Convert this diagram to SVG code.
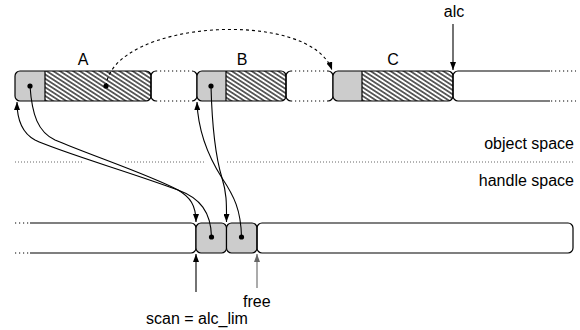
<svg xmlns="http://www.w3.org/2000/svg" width="580" height="330" viewBox="0 0 580 330">
<style>
  .txt { font-family: "Liberation Sans", Arial, sans-serif; font-size: 16px; fill: #000; }
  .edge { fill: none; stroke: #000; stroke-width: 1.2; }
  .dots { fill: none; stroke: #000; stroke-width: 1; stroke-dasharray: 1.2 2.8; }
  .gray { fill: #cccccc; }
  .hatch { fill: url(#hatch); }
  .ptr { fill: none; stroke: #000; stroke-width: 1.1; }
  .dot { fill: #000; }
  .sep { fill: none; stroke: #666; stroke-width: 1; stroke-dasharray: 1 2; }
</style>
<defs>
  <pattern id="hatch" width="3.6" height="3.6" patternUnits="userSpaceOnUse" patternTransform="rotate(33)">
    <line x1="0" y1="1.8" x2="3.6" y2="1.8" stroke="#000" stroke-width="1.2"/>
  </pattern>
  <marker id="arr" viewBox="0 0 8 6" refX="8" refY="3" markerWidth="8" markerHeight="6" markerUnits="userSpaceOnUse" orient="auto">
    <path d="M0,0 L8,3 L0,6 z" fill="#000"/>
  </marker>
  <marker id="arrG" viewBox="0 0 8 6" refX="8" refY="3" markerWidth="8" markerHeight="6" markerUnits="userSpaceOnUse" orient="auto">
    <path d="M0,0 L8,3 L0,6 z" fill="#666"/>
  </marker>
</defs>
<rect width="580" height="330" fill="#fff"/>

<!-- separator -->
<g id="separator">
  <path class="sep" d="M15,162 H82 M125,162 H206 M227,162 H574"/>
  <text class="txt" x="574" y="149" text-anchor="end">object space</text>
  <text class="txt" x="574" y="186" text-anchor="end">handle space</text>
</g>

<!-- object space row -->
<g id="objA">
  <path class="gray" d="M45,71 H20 A5,5 0 0 0 15,76 V96 A5,5 0 0 0 20,101 H45 Z"/>
  <path class="hatch" d="M45,71 H146 A5,5 0 0 1 151,76 V96 A5,5 0 0 1 146,101 H45 Z"/>
  <rect class="edge" x="15" y="71" width="136" height="30" rx="5"/>
  <line class="edge" x1="45" y1="71" x2="45" y2="101"/>
  <circle class="dot" cx="30" cy="86" r="2.6"/>
  <circle class="dot" cx="106" cy="86" r="2.6"/>
  <text class="txt" x="83" y="65" text-anchor="middle">A</text>
</g>
<g id="gap1">
  <path class="edge" d="M156,71 A5,5 0 0 0 151,76 V96 A5,5 0 0 0 156,101 M192,71 A5,5 0 0 1 197,76 V96 A5,5 0 0 1 192,101"/>
  <path class="dots" d="M156,71 H192 M156,101 H192"/>
</g>
<g id="objB">
  <path class="gray" d="M226,71 H202 A5,5 0 0 0 197,76 V96 A5,5 0 0 0 202,101 H226 Z"/>
  <path class="hatch" d="M226,71 H281 A5,5 0 0 1 286,76 V96 A5,5 0 0 1 281,101 H226 Z"/>
  <rect class="edge" x="197" y="71" width="89" height="30" rx="5"/>
  <line class="edge" x1="226" y1="71" x2="226" y2="101"/>
  <circle class="dot" cx="211" cy="86" r="2.6"/>
  <text class="txt" x="242" y="65" text-anchor="middle">B</text>
</g>
<g id="gap2">
  <path class="edge" d="M291,71 A5,5 0 0 0 286,76 V96 A5,5 0 0 0 291,101 M328,71 A5,5 0 0 1 333,76 V96 A5,5 0 0 1 328,101"/>
  <path class="dots" d="M291,71 H328 M291,101 H328"/>
</g>
<g id="objC">
  <path class="gray" d="M362,71 H338 A5,5 0 0 0 333,76 V96 A5,5 0 0 0 338,101 H362 Z"/>
  <path class="hatch" d="M362,71 H448 A5,5 0 0 1 453,76 V96 A5,5 0 0 1 448,101 H362 Z"/>
  <rect class="edge" x="333" y="71" width="120" height="30" rx="5"/>
  <line class="edge" x1="362" y1="71" x2="362" y2="101"/>
  <text class="txt" x="393" y="65" text-anchor="middle">C</text>
</g>
<g id="objFree">
  <path class="edge" d="M550,71 H458 A5,5 0 0 0 453,76 V96 A5,5 0 0 0 458,101 H550"/>
  <path class="dots" d="M551,71 H576 M551,101 H576"/>
  <text class="txt" x="454" y="17" text-anchor="middle">alc</text>
</g>

<!-- handle space row -->
<g id="handleUsed">
  <path class="dots" d="M15,223 H30 M15,253 H30"/>
  <path class="edge" d="M30,223 H191 A5,5 0 0 1 196,228 V248 A5,5 0 0 1 191,253 H30"/>
</g>
<g id="handle1">
  <rect class="edge gray" x="196" y="223" width="30.5" height="30" rx="5"/>
  <circle class="dot" cx="211.5" cy="237" r="2.6"/>
</g>
<g id="handle2">
  <rect class="edge gray" x="226.5" y="223" width="30.5" height="30" rx="5"/>
  <circle class="dot" cx="241.5" cy="237" r="2.6"/>
</g>
<g id="handleFree">
  <rect class="edge" x="257" y="223" width="316" height="30" rx="5" fill="#fff"/>
</g>
<g id="labels">
  <text class="txt" x="243" y="307">free</text>
  <text class="txt" x="197" y="324" text-anchor="middle">scan = alc_lim</text>
</g>

<!-- connectors -->
<g id="connectors">
  <path class="ptr" d="M211.5,237 C211,212 200,198 178,190 C130,172 60,152 35,140 C22,133 17,120 17,102" marker-end="url(#arr)"/>
  <path class="ptr" d="M30,86 C32,115 38,132 55,140 C90,155 150,175 178,190 C190,197 196,205 196,222" marker-end="url(#arr)"/>
  <path class="ptr" d="M241.5,237 C241,210 234,196 222,178 C208,156 198,130 197,102" marker-end="url(#arr)"/>
  <path class="ptr" d="M211,86 C212,125 215,155 222,178 C227,194 226.5,205 226.5,222" marker-end="url(#arr)"/>
  <path class="ptr" d="M106,86 C113,20 310,8 332,70" stroke-dasharray="3 3" marker-end="url(#arr)"/>
  <line class="ptr" x1="453" y1="24" x2="453" y2="70" marker-end="url(#arr)"/>
  <line class="ptr" x1="196" y1="292" x2="196" y2="254" marker-end="url(#arr)"/>
  <line x1="257" y1="288" x2="257" y2="254" stroke="#666" stroke-width="1.1" marker-end="url(#arrG)"/>
</g>
</svg>
